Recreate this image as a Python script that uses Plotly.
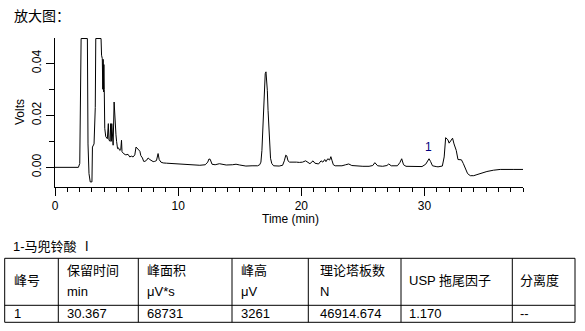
import plotly.graph_objects as go

# ---------------- data ----------------
time_min = [0.00, 1.90, 2.01, 2.06, 2.12, 2.63, 2.68, 2.76, 2.86, 3.00, 3.04, 3.17, 3.27, 3.31, 3.74,
            3.78, 3.84, 3.88, 3.91, 3.94, 3.97, 4.00, 4.04, 4.12, 4.25, 4.33, 4.38, 4.47, 4.52, 4.57,
            4.61, 4.66, 4.72, 4.80, 4.84, 4.88, 4.95, 5.00, 5.08, 5.15, 5.26, 5.34, 5.40, 5.44, 5.50,
            5.59, 5.75, 5.93, 6.07, 6.20, 6.34, 6.48, 6.58, 6.68, 6.80, 6.89, 6.97, 7.10, 7.20, 7.30,
            7.45, 7.56, 7.70, 7.84, 7.97, 8.10, 8.24, 8.37, 8.46, 8.60, 8.78, 9.06, 9.87, 10.14, 10.95,
            11.76, 12.20, 12.40, 12.50, 12.60, 12.75, 13.00, 13.35, 13.60, 13.90, 14.40, 14.70, 15.00,
            15.50, 16.00, 16.45, 16.62, 16.72, 16.80, 16.86, 16.93, 17.00, 17.07, 17.13, 17.18, 17.24,
            17.30, 17.36, 17.42, 17.50, 17.60, 17.75, 18.20, 18.48, 18.62, 18.74, 18.82, 18.92, 19.05,
            19.30, 19.60, 19.84, 20.10, 20.35, 20.50, 20.70, 20.95, 21.10, 21.40, 21.60, 21.75, 21.90,
            22.00, 22.15, 22.30, 22.40, 22.50, 22.60, 22.75, 23.00, 23.30, 23.60, 23.85, 24.10, 24.50,
            25.00, 25.50, 25.80, 25.97, 26.20, 26.60, 26.95, 27.10, 27.30, 27.80, 28.00, 28.15, 28.30,
            28.50, 29.00, 29.80, 30.10, 30.37, 30.50, 30.65, 30.95, 31.10, 31.45, 31.60, 31.72, 31.80,
            31.90, 32.00, 32.15, 32.28, 32.40, 32.58, 32.72, 32.85, 33.00, 33.15, 33.30, 33.50, 33.72,
            34.00, 34.26, 34.67, 35.07, 35.60, 36.15, 37.20, 38.00]
volts = [0.0000, 0.0000, 0.0015, 0.0230, 0.0495, 0.0495, 0.0090, -0.0024, -0.0056, -0.0056, 0.0078, 0.0090, 0.0230, 0.0495, 0.0495,
         0.0431, 0.0418, 0.0300, 0.0415, 0.0290, 0.0395, 0.0300, 0.0150, 0.0118, 0.0110, 0.0168, 0.0105, 0.0100, 0.0168, 0.0100,
         0.0168, 0.0090, 0.0085, 0.0251, 0.0200, 0.0140, 0.0125, 0.0100, 0.0072, 0.0075, 0.0065, 0.0068, 0.0104, 0.0060, 0.0055,
         0.0052, 0.0048, 0.0050, 0.0040, 0.0043, 0.0040, 0.0048, 0.0078, 0.0072, 0.0066, 0.0062, 0.0045, 0.0036, 0.0023, 0.0023,
         0.0028, 0.0036, 0.0030, 0.0024, 0.0022, 0.0023, 0.0026, 0.0053, 0.0030, 0.0020, 0.0017, 0.0016, 0.0014, 0.0012, 0.0010,
         0.0008, 0.0010, 0.0020, 0.0032, 0.0031, 0.0012, 0.0010, 0.0014, 0.0011, 0.0009, 0.0010, 0.0012, 0.0009,
         0.0005, 0.0006, 0.0006, 0.0010, 0.0020, 0.0065, 0.0142, 0.0230, 0.0300, 0.0360, 0.0367, 0.0340, 0.0296,
         0.0219, 0.0142, 0.0078, 0.0035, 0.0015, 0.0006, 0.0005, 0.0008, 0.0025, 0.0047, 0.0044, 0.0025, 0.0020,
         0.0021, 0.0020, 0.0019, 0.0020, 0.0025, 0.0019, 0.0014, 0.0025, 0.0016, 0.0013, 0.0025, 0.0020, 0.0030,
         0.0022, 0.0033, 0.0028, 0.0041, 0.0025, 0.0010, 0.0006, 0.0006, 0.0006, 0.0010, 0.0013, 0.0007, 0.0005,
         0.0004, 0.0004, 0.0007, 0.0018, 0.0006, 0.0004, 0.0007, 0.0013, 0.0006, 0.0006, 0.0018, 0.0033, 0.0010,
         0.0004, 0.0003, 0.0003, 0.0012, 0.0033, 0.0022, 0.0006, 0.0003, 0.0002, 0.0005, 0.0040, 0.0114, 0.0110,
         0.0106, 0.0093, 0.0105, 0.0112, 0.0090, 0.0065, 0.0030, 0.0030, 0.0029, 0.0015, -0.0005, -0.0024, -0.0032,
         -0.0032, -0.0028, -0.0021, -0.0016, -0.0011, -0.0008, -0.0008, -0.0008]

peak_labels = ["1"]
peak_times = [30.367]
peak_heights = [0.00326]

table_title = "1-马兜铃酸 Ⅰ"
header_top = ["峰号", "保留时间", "峰面积", "峰高", "理论塔板数", "USP 拖尾因子", "分离度"]
header_unit = ["", "min", "μV*s", "μV", "N", "", ""]
row_values = ["1", "30.367", "68731", "3261", "46914.674", "1.170", "--"]

# ---------------- layout helpers ----------------
W, H = 585, 331
L, R, T, B = 55, 62, 38, 144
PW, PH = W - L - R, H - T - B


def fx(px):
    return (px - L) / PW


def fy(py):
    return (H - B - py) / PH


LAT = "Liberation Sans, Arial, Noto Sans CJK SC"
CJK = "Liberation Sans, Noto Sans CJK SC"

fig = go.Figure()
fig.add_trace(go.Scatter(x=time_min, y=volts, mode="lines",
                         line=dict(color="black", width=1), hoverinfo="skip",
                         showlegend=False))

annotations = []
# peak label
for lab, t, h in zip(peak_labels, peak_times, peak_heights):
    annotations.append(dict(x=t, y=h, xref="x", yref="y", text=lab, showarrow=False,
                            yshift=12, font=dict(family=LAT, size=12, color="#000080")))

# title
annotations.append(dict(x=fx(12), y=fy(16), xref="paper", yref="paper", text="放大图：",
                        showarrow=False, xanchor="left", yanchor="middle",
                        font=dict(family=CJK, size=14, color="black")))
# axis titles
annotations.append(dict(x=fx(20), y=fy(112), xref="paper", yref="paper", text="Volts",
                        showarrow=False, textangle=-90, xanchor="center", yanchor="middle",
                        font=dict(family=LAT, size=12, color="black")))
annotations.append(dict(x=fx(290), y=fy(219), xref="paper", yref="paper", text="Time (min)",
                        showarrow=False, xanchor="center", yanchor="middle",
                        font=dict(family=LAT, size=12, color="black")))
# table title
annotations.append(dict(x=fx(11), y=fy(246), xref="paper", yref="paper", text=table_title,
                        showarrow=False, xanchor="left", yanchor="middle",
                        font=dict(family=CJK, size=13, color="black")))

col_edges = [4.7, 58.3, 138.3, 232, 308.3, 401, 512.3, 575]
text_x = [12, 65, 145, 239, 318, 407, 518]
row_top, row_mid, row_bot = 258.3, 305.3, 322.3

shapes = []
for yy in (row_top, row_mid, row_bot):
    shapes.append(dict(type="line", xref="paper", yref="paper", x0=fx(col_edges[0]), x1=fx(col_edges[-1]),
                       y0=fy(yy), y1=fy(yy), line=dict(color="black", width=1)))
for xx in col_edges:
    shapes.append(dict(type="line", xref="paper", yref="paper", x0=fx(xx), x1=fx(xx),
                       y0=fy(row_top), y1=fy(row_bot), line=dict(color="black", width=1)))

for i in range(len(header_top)):
    if header_unit[i]:
        annotations.append(dict(x=fx(text_x[i]), y=fy(270), xref="paper", yref="paper", text=header_top[i],
                                showarrow=False, xanchor="left", yanchor="middle",
                                font=dict(family=CJK, size=13, color="black")))
        annotations.append(dict(x=fx(text_x[i]), y=fy(291), xref="paper", yref="paper", text=header_unit[i],
                                showarrow=False, xanchor="left", yanchor="middle",
                                font=dict(family=LAT, size=13, color="black")))
    else:
        annotations.append(dict(x=fx(text_x[i]), y=fy(280), xref="paper", yref="paper", text=header_top[i],
                                showarrow=False, xanchor="left", yanchor="middle",
                                font=dict(family=CJK, size=13, color="black")))
    annotations.append(dict(x=fx(text_x[i]), y=fy(313.5), xref="paper", yref="paper", text=row_values[i],
                            showarrow=False, xanchor="left", yanchor="middle",
                            font=dict(family=LAT, size=13, color="black")))

fig.update_layout(
    width=W, height=H,
    margin=dict(l=L, r=R, t=T, b=B, pad=0),
    paper_bgcolor="white", plot_bgcolor="white",
    annotations=annotations, shapes=shapes,
    xaxis=dict(range=[0, 38], showgrid=False, zeroline=False, showline=True, linecolor="black",
               linewidth=1, ticks="outside", ticklen=8, tickcolor="black", tickwidth=1,
               tick0=0, dtick=10, tickfont=dict(family=LAT, size=12, color="black"),
               minor=dict(dtick=1, ticklen=4, ticks="outside", tickcolor="black", showgrid=False)),
    yaxis=dict(range=[-0.00755, 0.0497], showgrid=False, zeroline=False, showline=True, linecolor="black",
               linewidth=1, ticks="outside", ticklen=8, tickcolor="black", tickwidth=1,
               tick0=0, dtick=0.02, tickformat=".2f", tickangle=-90,
               tickfont=dict(family=LAT, size=12, color="black"),
               minor=dict(dtick=0.01, ticklen=5, ticks="outside", tickcolor="black", showgrid=False)),
)

fig.write_html("out.html")
